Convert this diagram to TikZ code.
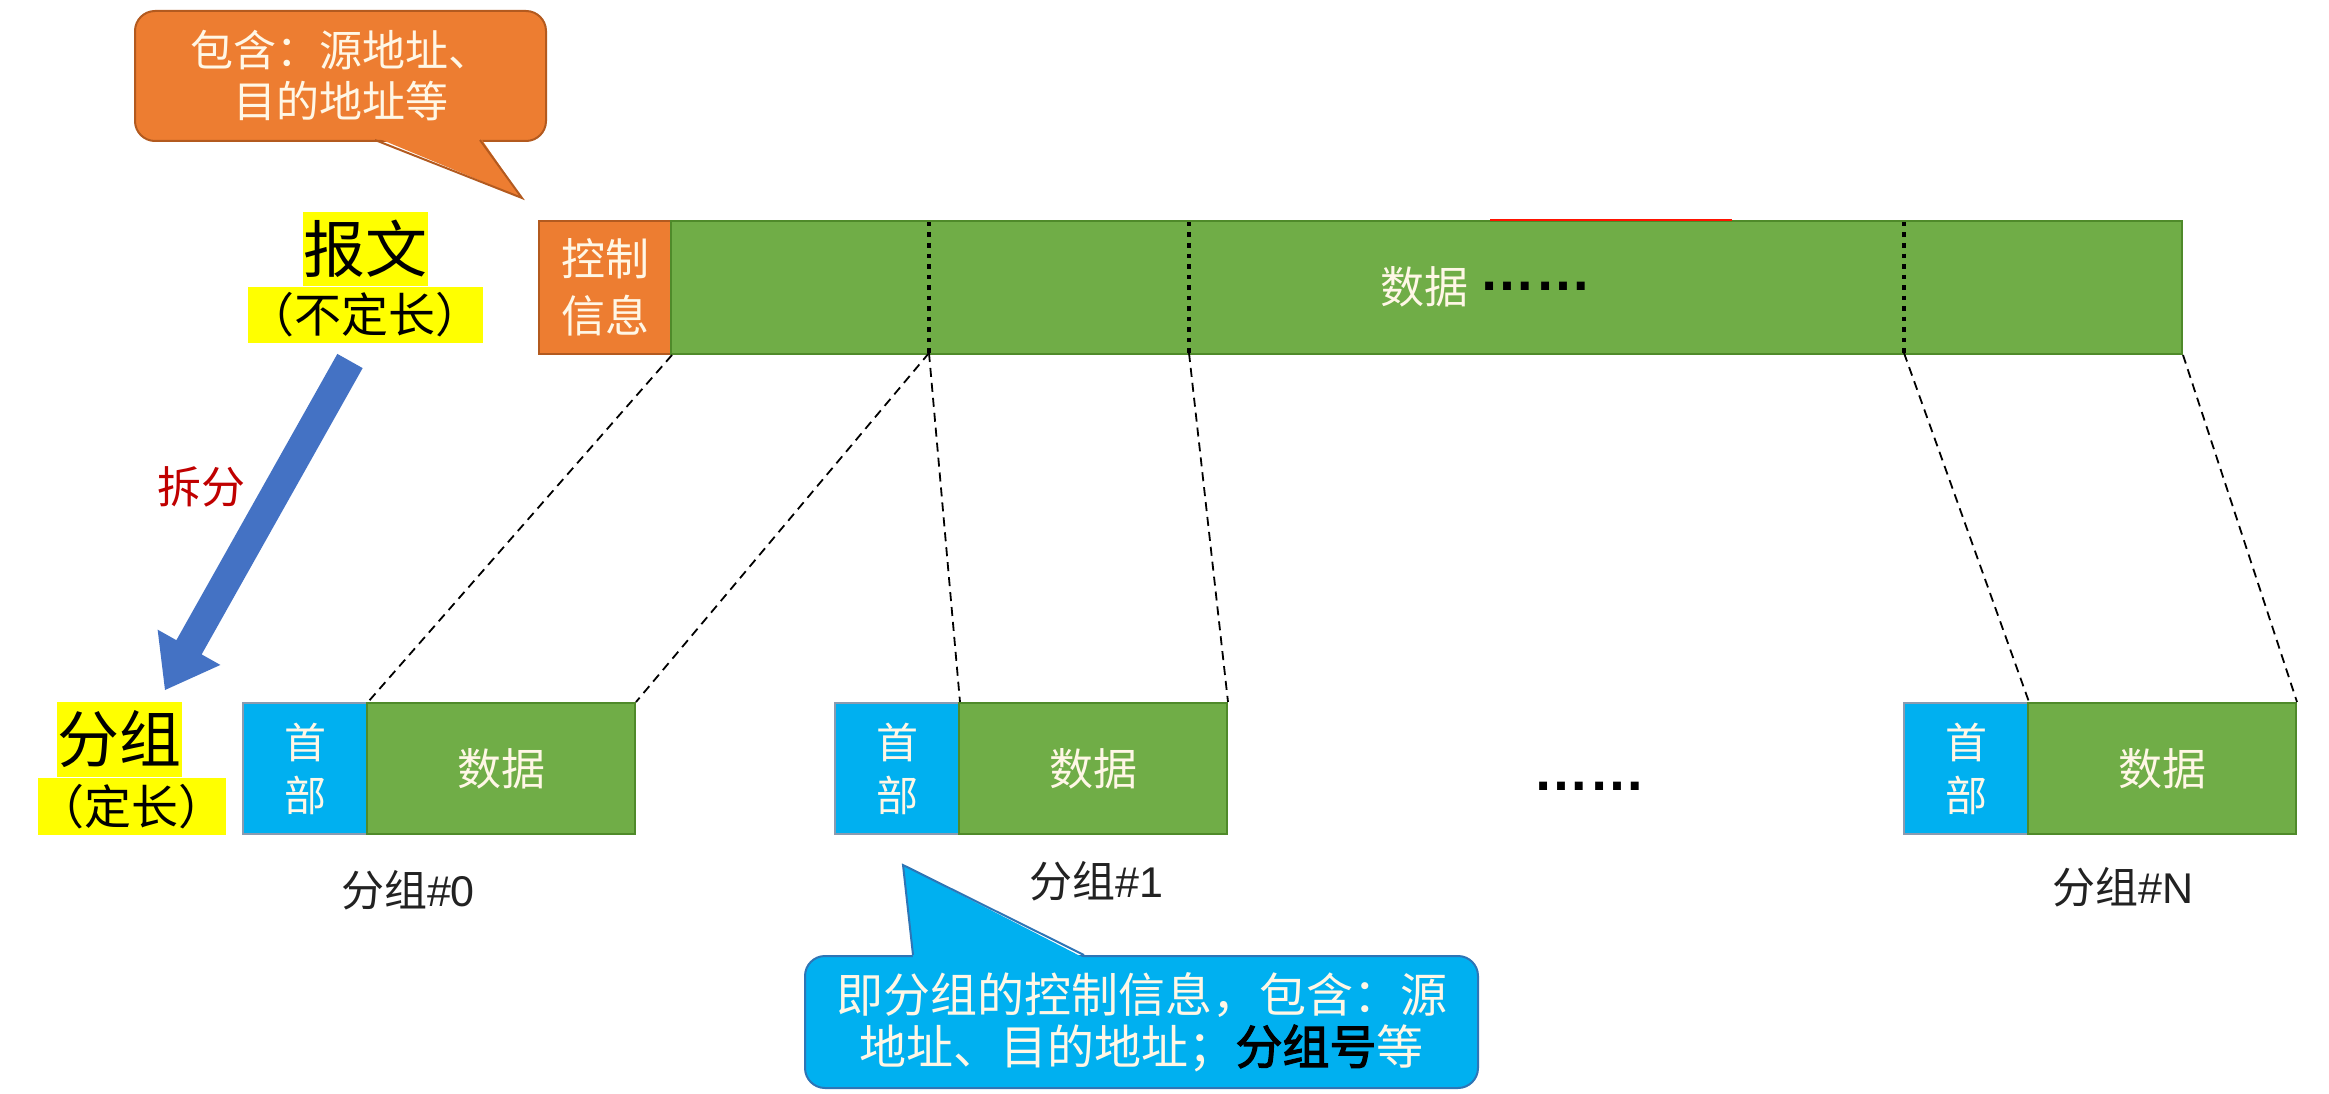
\documentclass[tikz,border=0pt]{standalone}
\usepackage{fontspec}
\setmainfont{Noto Sans CJK SC}[AutoFakeBold=2.5]
\newfontfamily\lat{Liberation Sans}
\usetikzlibrary{calc}
\definecolor{orgfill}{HTML}{ED7D31}
\definecolor{orgline}{HTML}{B35A1F}
\definecolor{grnfill}{HTML}{70AD47}
\definecolor{grnline}{HTML}{4F8A2A}
\definecolor{bluefill}{HTML}{00B0F0}
\definecolor{blueline}{HTML}{2E75B6}
\definecolor{hdrline}{HTML}{8A9BB0}
\definecolor{arrowblue}{HTML}{4472C4}
\definecolor{cream}{HTML}{FFF7E6}
\definecolor{darkred}{HTML}{C00000}
\definecolor{hlyellow}{HTML}{FFFF00}
\definecolor{labgray}{HTML}{222222}
\newcommand\myfs[2]{\fontsize{#1}{#2}\selectfont}
\begin{document}
\begin{tikzpicture}[x=1pt,y=-1pt,
  cell/.style={inner sep=0pt, anchor=north west, line width=2pt},
  ctrlbox/.style={cell, fill=orgfill, draw=orgline, minimum width=132pt, minimum height=133pt,
    text=cream, align=center, font=\myfs{44}{57}},
  barbox/.style={cell, fill=grnfill, draw=grnline, minimum width=1511pt, minimum height=133pt},
  hdrbox/.style={cell, fill=bluefill, draw=hdrline, minimum width=124pt, minimum height=131pt,
    text=cream, align=center, font=\myfs{42}{53}},
  datbox/.style={cell, fill=grnfill, draw=grnline, minimum width=268pt, minimum height=131pt,
    text=cream, font=\myfs{44}{50}},
  hlbox/.style={fill=hlyellow, inner sep=0pt, text=black},
  pktlabel/.style={text=labgray, font=\myfs{43}{50}},
  dotline/.style={line width=4.5pt, dash pattern=on 4.5pt off 6pt, black},
  dashline/.style={line width=1.8pt, dash pattern=on 9pt off 6pt, black},
  dotstext/.style={inner sep=0pt, text=black, font=\lat\bfseries\myfs{56}{60}},
  calloutbody/.style={cell, rounded corners=20pt, align=center, text=cream, line width=2pt}
]
\useasboundingbox[fill=white] (0,0) rectangle (2329,1094);

% ---------- orange callout ----------
\node[calloutbody, fill=orgfill, draw=orgline, minimum width=411pt, minimum height=130pt,
  font=\myfs{43}{51}] (oc) at (134,10) {包含：源地址、\\目的地址等};
\coordinate (octip) at (522,198);
\fill[orgfill] (375,137) -- (octip) -- (480,137) -- cycle;
\draw[orgline, line width=2pt, line join=miter] (375,140) -- (octip) -- (480,140);

% ---------- message bar ----------
\node[ctrlbox] (ctrl) at (538,220) {控制\\信息};
\node[barbox] (bar) at (670,220) {};
\draw[red!85!orange, line width=2pt] (1490,220) -- (1732,220);
\node[text=cream, font=\myfs{44}{50}, inner sep=0pt] (bartext) at (1424,287) {数据};
\node[dotstext] (bardots) at (1535,286) {……};

\coordinate (v1t) at (929,222); \coordinate (v1b) at (929,353);
\coordinate (v2t) at (1189,222); \coordinate (v2b) at (1189,353);
\coordinate (v3t) at (1904,222); \coordinate (v3b) at (1904,353);
\draw[dotline] (v1t) -- (v1b);
\draw[dotline] (v2t) -- (v2b);
\draw[dotline] (v3t) -- (v3b);

% ---------- packets ----------
\node[hdrbox] (h0) at (242,702) {首\\部};
\node[datbox] (d0) at (366,702) {数据};
\node[hdrbox] (h1) at (834,702) {首\\部};
\node[datbox] (d1) at (958,702) {数据};
\node[hdrbox] (hN) at (1903,702) {首\\部};
\node[datbox] (dN) at (2027,702) {数据};

\node[pktlabel] (l0) at (408,890) {分组{\lat\#0}};
\node[pktlabel] (l1) at (1096,881) {分组{\lat\#1}};
\node[pktlabel] (lN) at (2123,887) {分组{\lat\#N}};

\node[dotstext] (middots) at (1589.5,786) {……};

% ---------- dashed mapping lines ----------
\draw[dashline] (ctrl.south east) -- (h0.north east);
\draw[dashline] (v1b) -- (d0.north east);
\draw[dashline] (v1b) -- (h1.north east);
\draw[dashline] (v2b) -- (d1.north east);
\draw[dashline] (v3b) -- (hN.north east);
\draw[dashline] (bar.south east) -- (dN.north east);

% ---------- left labels ----------
\node[hlbox, minimum width=125pt, minimum height=74pt, font=\myfs{62}{66}] (bw) at (365.5,249) {报文};
\node[hlbox, minimum width=234pt, minimum height=56pt, font=\myfs{47}{50}] (bwlen) at (365,315) {（不定长）};
\node[hlbox, minimum width=125pt, minimum height=75pt, font=\myfs{62}{66}] (fz) at (119.5,739.5) {分组};
\node[hlbox, minimum width=187pt, minimum height=57pt, font=\myfs{47}{50}] (fzlen) at (131.5,806.5) {（定长）};

% ---------- split arrow ----------
\coordinate (arrS) at (350,361);
\coordinate (arrT) at (165,690);
\coordinate (arrB) at ($(arrT)!49pt!(arrS)$);
\fill[arrowblue]
  ($(arrS)!14.5pt!90:(arrT)$) -- ($(arrB)!14.5pt!90:(arrT)$) -- ($(arrB)!36pt!90:(arrT)$)
  -- (arrT) -- ($(arrB)!36pt!-90:(arrT)$) -- ($(arrB)!14.5pt!-90:(arrT)$)
  -- ($(arrS)!14.5pt!-90:(arrT)$) -- cycle;
\node[text=darkred, font=\myfs{44}{50}] (split) at (201,487) {拆分};

% ---------- blue callout ----------
\node[calloutbody, fill=bluefill, draw=blueline, minimum width=673pt, minimum height=132pt,
  font=\myfs{47}{52}] (bc) at (804,955)
  {即分组的控制信息，包含：源\\地址、目的地址；{\color{black}\bfseries 分组号}等};
\coordinate (bctip) at (903,865);
\fill[bluefill] (913,958) -- (bctip) -- (1084,958) -- cycle;
\draw[blueline, line width=2pt, line join=miter] (913,955) -- (bctip) -- (1084,955);
\end{tikzpicture}
\end{document}
